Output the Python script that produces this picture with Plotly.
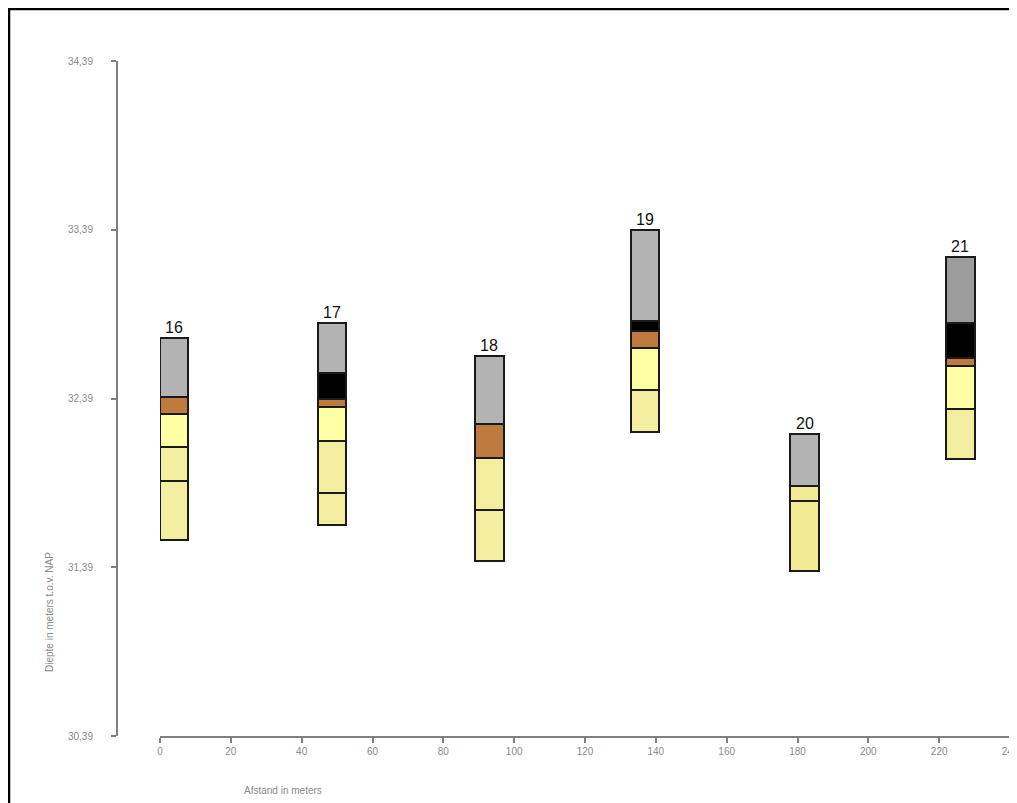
import plotly.graph_objects as go

# ---------------- data ----------------
borehole_names = ["16", "17", "18", "19", "20", "21"]
borehole_x = [4.0, 48.5, 93.0, 137.0, 182.0, 226.0]   # centre distance (m)
borehole_width = 8.0

# layer boundaries (top -> bottom), metres relative to NAP
boundaries = [
    [32.75, 32.40, 32.30, 32.10, 31.90, 31.55],
    [32.84, 32.54, 32.39, 32.34, 32.14, 31.83, 31.64],
    [32.64, 32.24, 32.04, 31.73, 31.43],
    [33.39, 32.85, 32.79, 32.69, 32.44, 32.19],
    [32.18, 31.87, 31.78, 31.37],
    [33.23, 32.84, 32.63, 32.58, 32.33, 32.03],
]
# layer kinds for each interval (top -> bottom)
layer_kinds = [
    ["grey", "brown", "sand_light", "sand", "sand"],
    ["grey", "black", "brown", "sand_light", "sand", "sand"],
    ["grey", "brown", "sand", "sand"],
    ["grey", "black", "brown", "sand_light", "sand"],
    ["grey", "sand2", "sand2"],
    ["grey_dark", "black", "brown", "sand_light", "sand"],
]

y_ticks = [30.39, 31.39, 32.39, 33.39, 34.39]
y_ticklabels = ["30,39", "31,39", "32,39", "33,39", "34,39"]
x_ticks = [0, 20, 40, 60, 80, 100, 120, 140, 160, 180, 200, 220, 240]

colors = {
    "grey": "#b3b3b3",
    "grey_dark": "#9c9c9c",
    "black": "#000000",
    "brown": "#bf7a3f",
    "sand_light": "#ffffa3",
    "sand": "#f3eda0",
    "sand2": "#f2ea94",
}

# ---------------- figure ----------------
fig = go.Figure()

for name, xc, bnds, kinds in zip(borehole_names, borehole_x, boundaries, layer_kinds):
    for i, kind in enumerate(kinds):
        top, bot = bnds[i], bnds[i + 1]
        fig.add_trace(go.Bar(
            x=[xc], y=[top - bot], base=[bot], width=borehole_width,
            marker=dict(color=colors[kind], line=dict(color="#1a1a1a", width=2)),
            showlegend=False, hoverinfo="skip",
        ))
    fig.add_annotation(x=xc, y=bnds[0], text=name, showarrow=False,
                       yanchor="bottom", yshift=0,
                       font=dict(family="Arial, Liberation Sans", size=16, color="#111111"))

OFF = 8  # page body margin
W, H = 1040, 803 - OFF
L, R, T = 100 - OFF, 10, 61 - OFF
B = H - (736 - OFF)
pw = W - L - R
ph = H - T - B

def px2paper_x(px):
    return (px - OFF - L) / pw

def px2paper_y(py):
    return (H - B - (py - OFF)) / ph

FONT = "Arial, Liberation Sans"
GREY_TXT = "#8a8a8a"

fig.update_layout(
    width=W, height=H,
    margin=dict(l=L, r=R, t=T, b=B, pad=0, autoexpand=False),
    paper_bgcolor="white", plot_bgcolor="white",
    barmode="overlay",
    bargap=0,
    xaxis=dict(
        domain=[px2paper_x(160), px2paper_x(1010)],
        range=[0, 240], tickvals=x_ticks,
        automargin=False,
        showline=True, linecolor="#7f7f7f", linewidth=2,
        ticks="outside", ticklen=5, tickcolor="#7f7f7f", tickwidth=1.5,
        showgrid=False, zeroline=False,
        tickfont=dict(family=FONT, size=10, color=GREY_TXT),
    ),
    yaxis=dict(
        anchor="free", position=px2paper_x(117),
        automargin=False,
        range=[30.39, 34.39], tickvals=y_ticks, ticktext=y_ticklabels,
        showline=True, linecolor="#7f7f7f", linewidth=2,
        ticks="outside", ticklen=5, tickcolor="#7f7f7f", tickwidth=1.5,
        ticklabelstandoff=16,
        showgrid=False, zeroline=False,
        tickfont=dict(family=FONT, size=10, color=GREY_TXT),
    ),
    shapes=[dict(type="rect", xref="paper", yref="paper",
                 x0=px2paper_x(9), x1=px2paper_x(1060),
                 y0=px2paper_y(830), y1=px2paper_y(9),
                 line=dict(color="black", width=2.5), fillcolor="rgba(0,0,0,0)",
                 layer="above")],
)

fig.add_annotation(xref="paper", yref="paper", x=px2paper_x(283), y=px2paper_y(790),
                   xanchor="center", yanchor="middle",
                   text="Afstand in meters", showarrow=False,
                   font=dict(family=FONT, size=10, color=GREY_TXT))
fig.add_annotation(xref="paper", yref="paper", x=px2paper_x(49), y=px2paper_y(612),
                   xanchor="center", yanchor="middle",
                   text="Diepte in meters t.o.v. NAP", showarrow=False, textangle=-90,
                   font=dict(family=FONT, size=10, color=GREY_TXT))

fig.write_html("out.html")
